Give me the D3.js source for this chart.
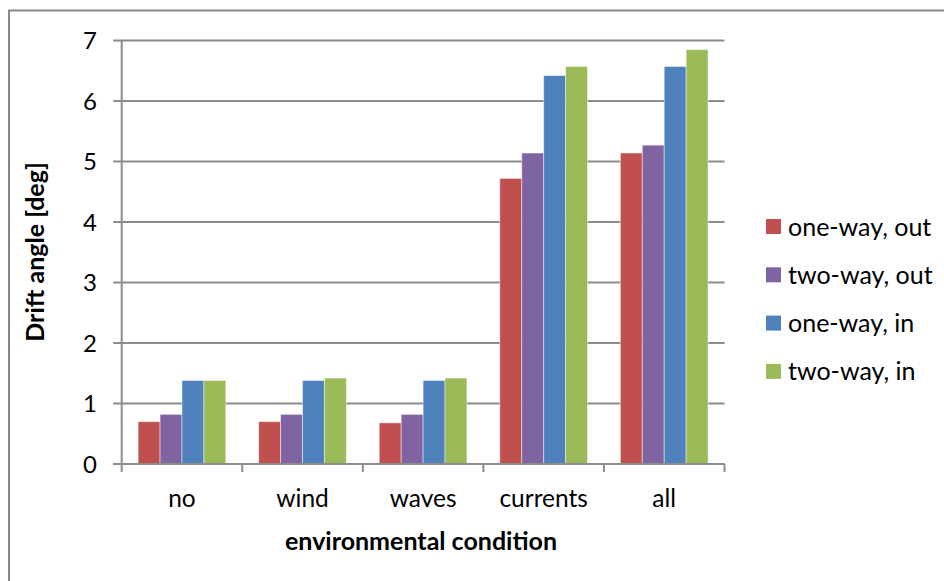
<!DOCTYPE html>
<html>
<head>
<meta charset="utf-8">
<script src="https://cdn.jsdelivr.net/npm/d3@7"></script>
<style>
  html, body { margin: 0; padding: 0; background: #fff; }
  svg { display: block; }
  text { font-family: Lato, "Liberation Sans", sans-serif; fill: #000; }
</style>
</head>
<body>
<svg id="chart" width="944" height="581"></svg>
<script>
// Drift angle per environmental condition, for the four coupling / direction cases
const categories = ["no", "wind", "waves", "currents", "all"];
const seriesNames = ["one-way, out", "two-way, out", "one-way, in", "two-way, in"];
const oneWayOut = [0.70, 0.70, 0.68, 4.72, 5.14];
const twoWayOut = [0.82, 0.82, 0.82, 5.14, 5.27];
const oneWayIn  = [1.38, 1.38, 1.38, 6.42, 6.57];
const twoWayIn  = [1.38, 1.42, 1.42, 6.57, 6.85];
const yTicks = [0, 1, 2, 3, 4, 5, 6, 7];
const colors = ["#C0504D", "#8064A2", "#4F81BD", "#9BBB59"];

const seriesValues = [oneWayOut, twoWayOut, oneWayIn, twoWayIn];

const svg = d3.select("#chart");

// outer chart frame (extends beyond the right and bottom edges)
svg.append("rect")
  .attr("x", 9).attr("y", 10.5)
  .attr("width", 960).attr("height", 600)
  .attr("fill", "none").attr("stroke", "#878787").attr("stroke-width", 2);

const plot = { left: 121.7, right: 724.5, top: 40.5, bottom: 464 };

const y = d3.scaleLinear().domain([0, 7]).range([plot.bottom, plot.top]);
const x = d3.scaleBand().domain(categories).range([plot.left, plot.right]).paddingInner(0).paddingOuter(0);

// bars fill 4 / 5.5 of each category slot
const barW = x.bandwidth() / 5.5;
const xs = d3.scaleBand().domain(d3.range(seriesNames.length))
  .range([(x.bandwidth() - 4 * barW) / 2, (x.bandwidth() + 4 * barW) / 2]);

// horizontal gridlines with small ticks to the left of the axis
svg.append("g").selectAll("line").data(yTicks).join("line")
  .attr("x1", plot.left - 8.5).attr("x2", plot.right)
  .attr("y1", d => y(d)).attr("y2", d => y(d))
  .attr("stroke", "#8c8c8c").attr("stroke-width", 2);

// y-axis tick labels
svg.append("g").selectAll("text").data(yTicks).join("text")
  .attr("x", 97).attr("y", d => y(d))
  .attr("dy", "0.36em")
  .attr("text-anchor", "end")
  .attr("font-size", 24)
  .text(d => d);

// bars
const groups = svg.append("g").selectAll("g").data(seriesValues).join("g")
  .attr("fill", (d, i) => colors[i]);
groups.each(function (vals, si) {
  d3.select(this).selectAll("rect").data(vals).join("rect")
    .attr("x", (v, ci) => x(categories[ci]) + xs(si))
    .attr("y", v => y(v))
    .attr("width", xs.bandwidth())
    .attr("height", v => y(0) - y(v))
    .attr("stroke", "rgba(255,255,255,0.45)")
    .attr("stroke-width", 1);
});

// y axis line
svg.append("line")
  .attr("x1", plot.left).attr("x2", plot.left)
  .attr("y1", plot.top).attr("y2", plot.bottom)
  .attr("stroke", "#8c8c8c").attr("stroke-width", 2);

// x axis baseline and category boundary ticks
svg.append("line")
  .attr("x1", plot.left - 8.5).attr("x2", plot.right)
  .attr("y1", plot.bottom).attr("y2", plot.bottom)
  .attr("stroke", "#8c8c8c").attr("stroke-width", 2);
const boundaries = categories.map(c => x(c)).concat([plot.right]);
svg.append("g").selectAll("line").data(boundaries).join("line")
  .attr("x1", d => d).attr("x2", d => d)
  .attr("y1", plot.bottom).attr("y2", plot.bottom + 8)
  .attr("stroke", "#8c8c8c").attr("stroke-width", 2);

// category labels
svg.append("g").selectAll("text").data(categories).join("text")
  .attr("x", d => x(d) + x.bandwidth() / 2)
  .attr("y", 507)
  .attr("text-anchor", "middle")
  .attr("font-size", 24.5)
  .text(d => d);

// axis titles
svg.append("text")
  .attr("x", 421).attr("y", 550)
  .attr("text-anchor", "middle")
  .attr("font-size", 25).attr("font-weight", "bold")
  .text("environmental condition");

svg.append("text")
  .attr("transform", "translate(44,252) rotate(-90)")
  .attr("text-anchor", "middle")
  .attr("font-size", 25).attr("font-weight", "bold")
  .text("Drift angle [deg]");

// legend
const legend = svg.append("g").selectAll("g").data(seriesNames).join("g")
  .attr("transform", (d, i) => `translate(766, ${226.5 + i * 48.3})`);
legend.append("rect")
  .attr("x", 0).attr("y", -7.5).attr("width", 15).attr("height", 15)
  .attr("fill", (d, i) => colors[i]);
legend.append("text")
  .attr("x", 22).attr("y", 0).attr("dy", "0.36em")
  .attr("font-size", 25)
  .text(d => d);
</script>
</body>
</html>
